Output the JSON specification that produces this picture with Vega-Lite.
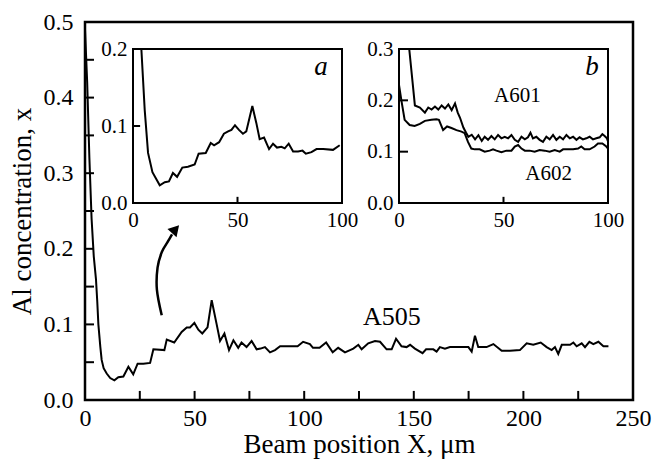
{
  "$schema": "https://vega.github.io/schema/vega-lite/v6.json",
  "width": 548,
  "height": 378,
  "autosize": {"type": "none"},
  "padding": {"left": 85, "top": 22, "right": 23, "bottom": 60},
  "background": "white",
  "config": {
    "view": {"stroke": "black", "strokeWidth": 2.5},
    "axis": {
      "domain": false, "grid": false, "ticks": false, "tickSize": 0,
      "labelColor": "black", "titleColor": "black", "titleFontWeight": "normal", "labelFlush": false, "labelOverlap": false, "zindex": 1
    }
  },
  "datasets": {
    "a505": [
      {"x":0,"y":0.49},{"x":1,"y":0.42},{"x":2,"y":0.32},{"x":3,"y":0.24},{"x":4,"y":0.19},{"x":5,"y":0.16},{"x":5.6,"y":0.13},{"x":6.1,"y":0.10},{"x":7,"y":0.07},{"x":7.6,"y":0.053},{"x":8.5,"y":0.042},{"x":9.9,"y":0.035},{"x":11.5,"y":0.029},{"x":13.4,"y":0.026},{"x":15.2,"y":0.030},{"x":17.5,"y":0.031},{"x":19.8,"y":0.044},{"x":22,"y":0.034},{"x":24,"y":0.048},{"x":26.6,"y":0.048},{"x":29.7,"y":0.049},{"x":31.2,"y":0.067},{"x":36.2,"y":0.066},{"x":37.3,"y":0.080},{"x":40.7,"y":0.076},{"x":44.1,"y":0.090},{"x":46.4,"y":0.096},{"x":47.9,"y":0.096},{"x":49.9,"y":0.102},{"x":51.7,"y":0.093},{"x":53.5,"y":0.088},{"x":55.9,"y":0.096},{"x":57.8,"y":0.132},{"x":60,"y":0.101},{"x":61.6,"y":0.078},{"x":63.6,"y":0.088},{"x":65.7,"y":0.066},{"x":67.7,"y":0.079},{"x":69.9,"y":0.069},{"x":71.4,"y":0.076},{"x":73.7,"y":0.070},{"x":76,"y":0.078},{"x":78.3,"y":0.067},{"x":80.1,"y":0.068},{"x":82.1,"y":0.070},{"x":84.4,"y":0.063},{"x":86.7,"y":0.066},{"x":89,"y":0.071},{"x":97,"y":0.071},{"x":99.5,"y":0.077},{"x":102.6,"y":0.074},{"x":104,"y":0.069},{"x":107,"y":0.069},{"x":110,"y":0.076},{"x":113,"y":0.063},{"x":115.5,"y":0.069},{"x":118.6,"y":0.063},{"x":120.9,"y":0.066},{"x":122.4,"y":0.068},{"x":124.7,"y":0.073},{"x":126.2,"y":0.067},{"x":129.2,"y":0.075},{"x":132.3,"y":0.078},{"x":134.6,"y":0.077},{"x":137.6,"y":0.067},{"x":139.9,"y":0.067},{"x":141.9,"y":0.081},{"x":144.4,"y":0.071},{"x":146.7,"y":0.070},{"x":148.3,"y":0.073},{"x":150.5,"y":0.068},{"x":154,"y":0.062},{"x":155.6,"y":0.067},{"x":158.9,"y":0.067},{"x":160.4,"y":0.064},{"x":161.9,"y":0.070},{"x":164.2,"y":0.068},{"x":166.5,"y":0.070},{"x":171,"y":0.070},{"x":174.9,"y":0.070},{"x":176.4,"y":0.064},{"x":177.9,"y":0.085},{"x":179.4,"y":0.070},{"x":183.2,"y":0.070},{"x":186.3,"y":0.074},{"x":190.1,"y":0.065},{"x":193.9,"y":0.065},{"x":198.4,"y":0.066},{"x":201.5,"y":0.075},{"x":204.5,"y":0.073},{"x":207.9,"y":0.076},{"x":210.6,"y":0.070},{"x":212.9,"y":0.066},{"x":214.4,"y":0.070},{"x":215.9,"y":0.061},{"x":217.5,"y":0.073},{"x":221.3,"y":0.073},{"x":222.8,"y":0.076},{"x":224.3,"y":0.071},{"x":226.6,"y":0.075},{"x":228.1,"y":0.070},{"x":230.1,"y":0.077},{"x":231.9,"y":0.074},{"x":234.2,"y":0.077},{"x":236.5,"y":0.071},{"x":238.8,"y":0.071}
    ],
    "arrow": [
      {"i":0,"x":35.0,"y":0.112},{"i":1,"x":32.8,"y":0.146},{"i":2,"x":33.1,"y":0.175},{"i":3,"x":35.1,"y":0.196},{"i":4,"x":37.9,"y":0.210},{"i":5,"x":39.7,"y":0.219}
    ],
    "insetA": [
      {"x":4.0,"y":0.2},{"x":5.6,"y":0.121},{"x":7.2,"y":0.065},{"x":9.3,"y":0.040},{"x":12.8,"y":0.023},{"x":15.2,"y":0.027},{"x":17.2,"y":0.028},{"x":19.1,"y":0.039},{"x":21.1,"y":0.034},{"x":23.6,"y":0.046},{"x":26.3,"y":0.047},{"x":29.5,"y":0.050},{"x":31.4,"y":0.064},{"x":34.8,"y":0.065},{"x":37.2,"y":0.078},{"x":38.8,"y":0.075},{"x":41.2,"y":0.079},{"x":43.5,"y":0.090},{"x":45.5,"y":0.093},{"x":47.1,"y":0.095},{"x":48.8,"y":0.101},{"x":50.7,"y":0.095},{"x":52.6,"y":0.090},{"x":54.2,"y":0.093},{"x":57.1,"y":0.126},{"x":59.0,"y":0.104},{"x":60.6,"y":0.083},{"x":62.7,"y":0.085},{"x":65.1,"y":0.070},{"x":67.0,"y":0.077},{"x":68.9,"y":0.072},{"x":71.0,"y":0.073},{"x":72.6,"y":0.071},{"x":74.5,"y":0.077},{"x":76.6,"y":0.067},{"x":79.0,"y":0.067},{"x":81.1,"y":0.068},{"x":82.7,"y":0.064},{"x":85.4,"y":0.066},{"x":87.8,"y":0.070},{"x":91,"y":0.070},{"x":95.7,"y":0.069},{"x":98.9,"y":0.075}
    ],
    "insetB": [
      {"s":"A601","x":4.9,"y":0.3},{"s":"A601","x":6.5,"y":0.235},{"s":"A601","x":7.6,"y":0.19},{"s":"A601","x":10,"y":0.186},{"s":"A601","x":12.4,"y":0.176},{"s":"A601","x":14,"y":0.186},{"s":"A601","x":15.6,"y":0.182},{"s":"A601","x":17.2,"y":0.188},{"s":"A601","x":18.8,"y":0.182},{"s":"A601","x":20.4,"y":0.19},{"s":"A601","x":22,"y":0.184},{"s":"A601","x":23.6,"y":0.192},{"s":"A601","x":25.2,"y":0.181},{"s":"A601","x":26.8,"y":0.194},{"s":"A601","x":28.1,"y":0.176},{"s":"A601","x":29.2,"y":0.166},{"s":"A601","x":30.8,"y":0.147},{"s":"A601","x":32.1,"y":0.137},{"s":"A601","x":33.2,"y":0.129},{"s":"A601","x":34.8,"y":0.133},{"s":"A601","x":36.4,"y":0.124},{"s":"A601","x":38,"y":0.132},{"s":"A601","x":39.6,"y":0.121},{"s":"A601","x":41.0,"y":0.129},{"s":"A601","x":42.6,"y":0.123},{"s":"A601","x":44.2,"y":0.1305},{"s":"A601","x":45.8,"y":0.124},{"s":"A601","x":47.4,"y":0.1325},{"s":"A601","x":49.0,"y":0.126},{"s":"A601","x":50.6,"y":0.129},{"s":"A601","x":52.2,"y":0.126},{"s":"A601","x":53.8,"y":0.1325},{"s":"A601","x":55.4,"y":0.123},{"s":"A601","x":57.0,"y":0.119},{"s":"A601","x":58.6,"y":0.129},{"s":"A601","x":60.2,"y":0.124},{"s":"A601","x":61.7,"y":0.128},{"s":"A601","x":62.9,"y":0.137},{"s":"A601","x":64.1,"y":0.126},{"s":"A601","x":65.7,"y":0.129},{"s":"A601","x":67.3,"y":0.123},{"s":"A601","x":68.9,"y":0.119},{"s":"A601","x":70.5,"y":0.129},{"s":"A601","x":72.1,"y":0.124},{"s":"A601","x":73.7,"y":0.1325},{"s":"A601","x":75.3,"y":0.123},{"s":"A601","x":76.9,"y":0.129},{"s":"A601","x":78.5,"y":0.124},{"s":"A601","x":80.1,"y":0.1325},{"s":"A601","x":81.7,"y":0.126},{"s":"A601","x":83.3,"y":0.129},{"s":"A601","x":84.9,"y":0.123},{"s":"A601","x":86.4,"y":0.128},{"s":"A601","x":88.0,"y":0.124},{"s":"A601","x":89.6,"y":0.126},{"s":"A601","x":91.2,"y":0.129},{"s":"A601","x":92.8,"y":0.124},{"s":"A601","x":94.4,"y":0.126},{"s":"A601","x":96.0,"y":0.128},{"s":"A601","x":97.3,"y":0.134},{"s":"A601","x":98.4,"y":0.1305},{"s":"A601","x":99.5,"y":0.126},{"s":"A601","x":100,"y":0.12},
      {"s":"A602","x":0,"y":0.23},{"s":"A602","x":1.1,"y":0.201},{"s":"A602","x":2.7,"y":0.162},{"s":"A602","x":5.1,"y":0.152},{"s":"A602","x":7.5,"y":0.150},{"s":"A602","x":10,"y":0.154},{"s":"A602","x":12.4,"y":0.160},{"s":"A602","x":15.5,"y":0.162},{"s":"A602","x":17.9,"y":0.163},{"s":"A602","x":19.1,"y":0.162},{"s":"A602","x":21.1,"y":0.142},{"s":"A602","x":23,"y":0.149},{"s":"A602","x":25.1,"y":0.146},{"s":"A602","x":27.5,"y":0.142},{"s":"A602","x":29.9,"y":0.139},{"s":"A602","x":31.4,"y":0.136},{"s":"A602","x":33,"y":0.119},{"s":"A602","x":34.6,"y":0.106},{"s":"A602","x":36.2,"y":0.1045},{"s":"A602","x":38.6,"y":0.1045},{"s":"A602","x":41,"y":0.100},{"s":"A602","x":43.4,"y":0.102},{"s":"A602","x":45,"y":0.1045},{"s":"A602","x":46.6,"y":0.102},{"s":"A602","x":49,"y":0.099},{"s":"A602","x":51.4,"y":0.102},{"s":"A602","x":53.8,"y":0.102},{"s":"A602","x":55.4,"y":0.110},{"s":"A602","x":57,"y":0.113},{"s":"A602","x":58.6,"y":0.106},{"s":"A602","x":60.2,"y":0.102},{"s":"A602","x":62.5,"y":0.102},{"s":"A602","x":64.9,"y":0.100},{"s":"A602","x":67.3,"y":0.103},{"s":"A602","x":69.7,"y":0.102},{"s":"A602","x":72.1,"y":0.100},{"s":"A602","x":74.5,"y":0.103},{"s":"A602","x":76.9,"y":0.100},{"s":"A602","x":78.5,"y":0.1045},{"s":"A602","x":80.9,"y":0.1045},{"s":"A602","x":83.3,"y":0.1045},{"s":"A602","x":85.7,"y":0.106},{"s":"A602","x":87.2,"y":0.110},{"s":"A602","x":88.8,"y":0.1045},{"s":"A602","x":91.2,"y":0.1045},{"s":"A602","x":93.6,"y":0.110},{"s":"A602","x":95.2,"y":0.116},{"s":"A602","x":97.3,"y":0.116},{"s":"A602","x":99.2,"y":0.110},{"s":"A602","x":100,"y":0.106}
    ]
  },
  "layer": [
    {
      "data": {"name": "a505"},
      "mark": {"type": "line", "color": "black", "strokeWidth": 2},
      "encoding": {
        "x": {"field": "x", "type": "quantitative", "scale": {"domain": [0, 250], "nice": false},
          "axis": {"orient": "bottom", "values": [0,50,100,150,200,250], "labelFont": "Liberation Serif", "labelFontSize": 24, "labelPadding": 6, "title": "Beam position X, μm", "titleFont": "Liberation Serif", "titleFontSize": 27, "titlePadding": 1}},
        "y": {"field": "y", "type": "quantitative", "scale": {"domain": [0, 0.5], "nice": false},
          "axis": {"orient": "left", "values": [0,0.1,0.2,0.3,0.4,0.5], "format": ".1f", "labelFont": "Liberation Serif", "labelFontSize": 24, "labelPadding": 12, "title": "Al concentration, x", "titleFont": "Liberation Serif", "titleFontSize": 27, "titlePadding": 7}}
      }
    },
    {
      "data": {"values": [{"v":25},{"v":50},{"v":75},{"v":100},{"v":125},{"v":150},{"v":175},{"v":200},{"v":225}]},
      "mark": {"type": "rule", "color": "black", "strokeWidth": 2},
      "encoding": {
        "x": {"field": "v", "type": "quantitative", "scale": {"domain": [0, 250], "nice": false}, "axis": null},
        "y": {"datum": 0, "type": "quantitative", "scale": {"domain": [0, 0.5], "nice": false}, "axis": null},
        "y2": {"datum": 0.012}
      }
    },
    {
      "data": {"values": [{"v":0.05},{"v":0.1},{"v":0.15},{"v":0.2},{"v":0.25},{"v":0.3},{"v":0.35},{"v":0.4},{"v":0.45}]},
      "mark": {"type": "rule", "color": "black", "strokeWidth": 2},
      "encoding": {
        "x": {"datum": 0, "type": "quantitative", "scale": {"domain": [0, 250], "nice": false}, "axis": null},
        "x2": {"datum": 4.1},
        "y": {"field": "v", "type": "quantitative", "scale": {"domain": [0, 0.5], "nice": false}, "axis": null}
      }
    },
    {
      "data": {"name": "arrow"},
      "mark": {"type": "line", "color": "black", "strokeWidth": 2.5, "interpolate": "cardinal"},
      "encoding": {
        "x": {"field": "x", "type": "quantitative", "scale": {"domain": [0, 250], "nice": false}, "axis": null},
        "y": {"field": "y", "type": "quantitative", "scale": {"domain": [0, 0.5], "nice": false}, "axis": null},
        "order": {"field": "i"}
      }
    },
    {
      "data": {"values": [{}]},
      "mark": {"type": "point", "shape": "triangle-up", "filled": true, "color": "black", "size": 150, "angle": 42, "opacity": 1},
      "encoding": {
        "x": {"datum": 41.3, "type": "quantitative", "scale": {"domain": [0, 250], "nice": false}, "axis": null},
        "y": {"datum": 0.226, "type": "quantitative", "scale": {"domain": [0, 0.5], "nice": false}, "axis": null}
      }
    },
    {
      "data": {"values": [{}]},
      "mark": {"type": "text", "text": "A505", "font": "Liberation Serif", "fontSize": 26, "align": "center", "baseline": "alphabetic", "color": "black"},
      "encoding": {
        "x": {"datum": 140, "type": "quantitative", "scale": {"domain": [0, 250], "nice": false}, "axis": null},
        "y": {"datum": 0.099, "type": "quantitative", "scale": {"domain": [0, 0.5], "nice": false}, "axis": null}
      }
    },
    {
      "data": {"values": [{}]},
      "mark": {"type": "rect", "fillOpacity": 0, "fill": "white", "stroke": "black", "strokeWidth": 2},
      "encoding": {
        "x": {"datum": 0, "type": "quantitative", "scale": {"domain": [0, 100], "range": [48, 257], "nice": false}, "axis": null},
        "x2": {"datum": 100},
        "y": {"datum": 0, "type": "quantitative", "scale": {"domain": [0, 0.2], "range": [181, 27], "nice": false}, "axis": null},
        "y2": {"datum": 0.2}
      }
    },
    {
      "data": {"values": [{"v":50}]},
      "mark": {"type": "rule", "color": "black", "strokeWidth": 2},
      "encoding": {
        "x": {"field": "v", "type": "quantitative", "scale": {"domain": [0, 100], "range": [48, 257], "nice": false}, "axis": null},
        "y": {"datum": 0, "type": "quantitative", "scale": {"domain": [0, 0.2], "range": [181, 27], "nice": false}, "axis": null},
        "y2": {"datum": 0.008}
      }
    },
    {
      "data": {"values": [{"v":0.1}]},
      "mark": {"type": "rule", "color": "black", "strokeWidth": 2},
      "encoding": {
        "x": {"datum": 0, "type": "quantitative", "scale": {"domain": [0, 100], "range": [48, 257], "nice": false}, "axis": null},
        "x2": {"datum": 3.4},
        "y": {"field": "v", "type": "quantitative", "scale": {"domain": [0, 0.2], "range": [181, 27], "nice": false}, "axis": null}
      }
    },
    {
      "data": {"name": "insetA"},
      "mark": {"type": "line", "color": "black", "strokeWidth": 2},
      "encoding": {
        "x": {"field": "x", "type": "quantitative", "scale": {"domain": [0, 100], "range": [48, 257], "nice": false},
          "axis": {"orient": "bottom", "offset": -197, "values": [0, 50, 100], "labelFont": "Liberation Serif", "labelFontSize": 21, "labelPadding": 6, "title": null}},
        "y": {"field": "y", "type": "quantitative", "scale": {"domain": [0, 0.2], "range": [181, 27], "nice": false},
          "axis": {"orient": "left", "offset": -48, "values": [0, 0.1, 0.2], "format": ".1f", "labelFont": "Liberation Serif", "labelFontSize": 21, "labelPadding": 6, "title": null}}
      }
    },
    {
      "data": {"values": [{}]},
      "mark": {"type": "text", "text": "a", "font": "Liberation Serif", "fontSize": 27, "fontStyle": "italic", "align": "center", "baseline": "alphabetic", "color": "black"},
      "encoding": {
        "x": {"datum": 90, "type": "quantitative", "scale": {"domain": [0, 100], "range": [48, 257], "nice": false}, "axis": null},
        "y": {"datum": 0.1665, "type": "quantitative", "scale": {"domain": [0, 0.2], "range": [181, 27], "nice": false}, "axis": null}
      }
    },
    {
      "data": {"values": [{}]},
      "mark": {"type": "rect", "fillOpacity": 0, "fill": "white", "stroke": "black", "strokeWidth": 2},
      "encoding": {
        "x": {"datum": 0, "type": "quantitative", "scale": {"domain": [0, 100], "range": [314, 523], "nice": false}, "axis": null},
        "x2": {"datum": 100},
        "y": {"datum": 0, "type": "quantitative", "scale": {"domain": [0, 0.3], "range": [181, 27], "nice": false}, "axis": null},
        "y2": {"datum": 0.3}
      }
    },
    {
      "data": {"values": [{"v":50}]},
      "mark": {"type": "rule", "color": "black", "strokeWidth": 2},
      "encoding": {
        "x": {"field": "v", "type": "quantitative", "scale": {"domain": [0, 100], "range": [314, 523], "nice": false}, "axis": null},
        "y": {"datum": 0, "type": "quantitative", "scale": {"domain": [0, 0.3], "range": [181, 27], "nice": false}, "axis": null},
        "y2": {"datum": 0.012}
      }
    },
    {
      "data": {"values": [{"v":0.1},{"v":0.2}]},
      "mark": {"type": "rule", "color": "black", "strokeWidth": 2},
      "encoding": {
        "x": {"datum": 0, "type": "quantitative", "scale": {"domain": [0, 100], "range": [314, 523], "nice": false}, "axis": null},
        "x2": {"datum": 4.3},
        "y": {"field": "v", "type": "quantitative", "scale": {"domain": [0, 0.3], "range": [181, 27], "nice": false}, "axis": null}
      }
    },
    {
      "data": {"name": "insetB"},
      "mark": {"type": "line", "color": "black", "strokeWidth": 2},
      "encoding": {
        "x": {"field": "x", "type": "quantitative", "scale": {"domain": [0, 100], "range": [314, 523], "nice": false},
          "axis": {"orient": "bottom", "offset": -197, "values": [0, 50, 100], "labelFont": "Liberation Serif", "labelFontSize": 21, "labelPadding": 6, "title": null}},
        "y": {"field": "y", "type": "quantitative", "scale": {"domain": [0, 0.3], "range": [181, 27], "nice": false},
          "axis": {"orient": "left", "offset": -314, "values": [0, 0.1, 0.2, 0.3], "format": ".1f", "labelFont": "Liberation Serif", "labelFontSize": 21, "labelPadding": 6, "title": null}},
        "detail": {"field": "s", "type": "nominal"}
      }
    },
    {
      "data": {"values": [{}]},
      "mark": {"type": "text", "text": "b", "font": "Liberation Serif", "fontSize": 27, "fontStyle": "italic", "align": "center", "baseline": "alphabetic", "color": "black"},
      "encoding": {
        "x": {"datum": 92.4, "type": "quantitative", "scale": {"domain": [0, 100], "range": [314, 523], "nice": false}, "axis": null},
        "y": {"datum": 0.25, "type": "quantitative", "scale": {"domain": [0, 0.3], "range": [181, 27], "nice": false}, "axis": null}
      }
    },
    {
      "data": {"values": [{}]},
      "mark": {"type": "text", "text": "A601", "font": "Liberation Serif", "fontSize": 21, "align": "center", "baseline": "alphabetic", "color": "black"},
      "encoding": {
        "x": {"datum": 56.6, "type": "quantitative", "scale": {"domain": [0, 100], "range": [314, 523], "nice": false}, "axis": null},
        "y": {"datum": 0.197, "type": "quantitative", "scale": {"domain": [0, 0.3], "range": [181, 27], "nice": false}, "axis": null}
      }
    },
    {
      "data": {"values": [{}]},
      "mark": {"type": "text", "text": "A602", "font": "Liberation Serif", "fontSize": 21, "align": "center", "baseline": "alphabetic", "color": "black"},
      "encoding": {
        "x": {"datum": 71.6, "type": "quantitative", "scale": {"domain": [0, 100], "range": [314, 523], "nice": false}, "axis": null},
        "y": {"datum": 0.0444, "type": "quantitative", "scale": {"domain": [0, 0.3], "range": [181, 27], "nice": false}, "axis": null}
      }
    }
  ],
  "resolve": {"scale": {"x": "independent", "y": "independent"}, "axis": {"x": "independent", "y": "independent"}}
}
